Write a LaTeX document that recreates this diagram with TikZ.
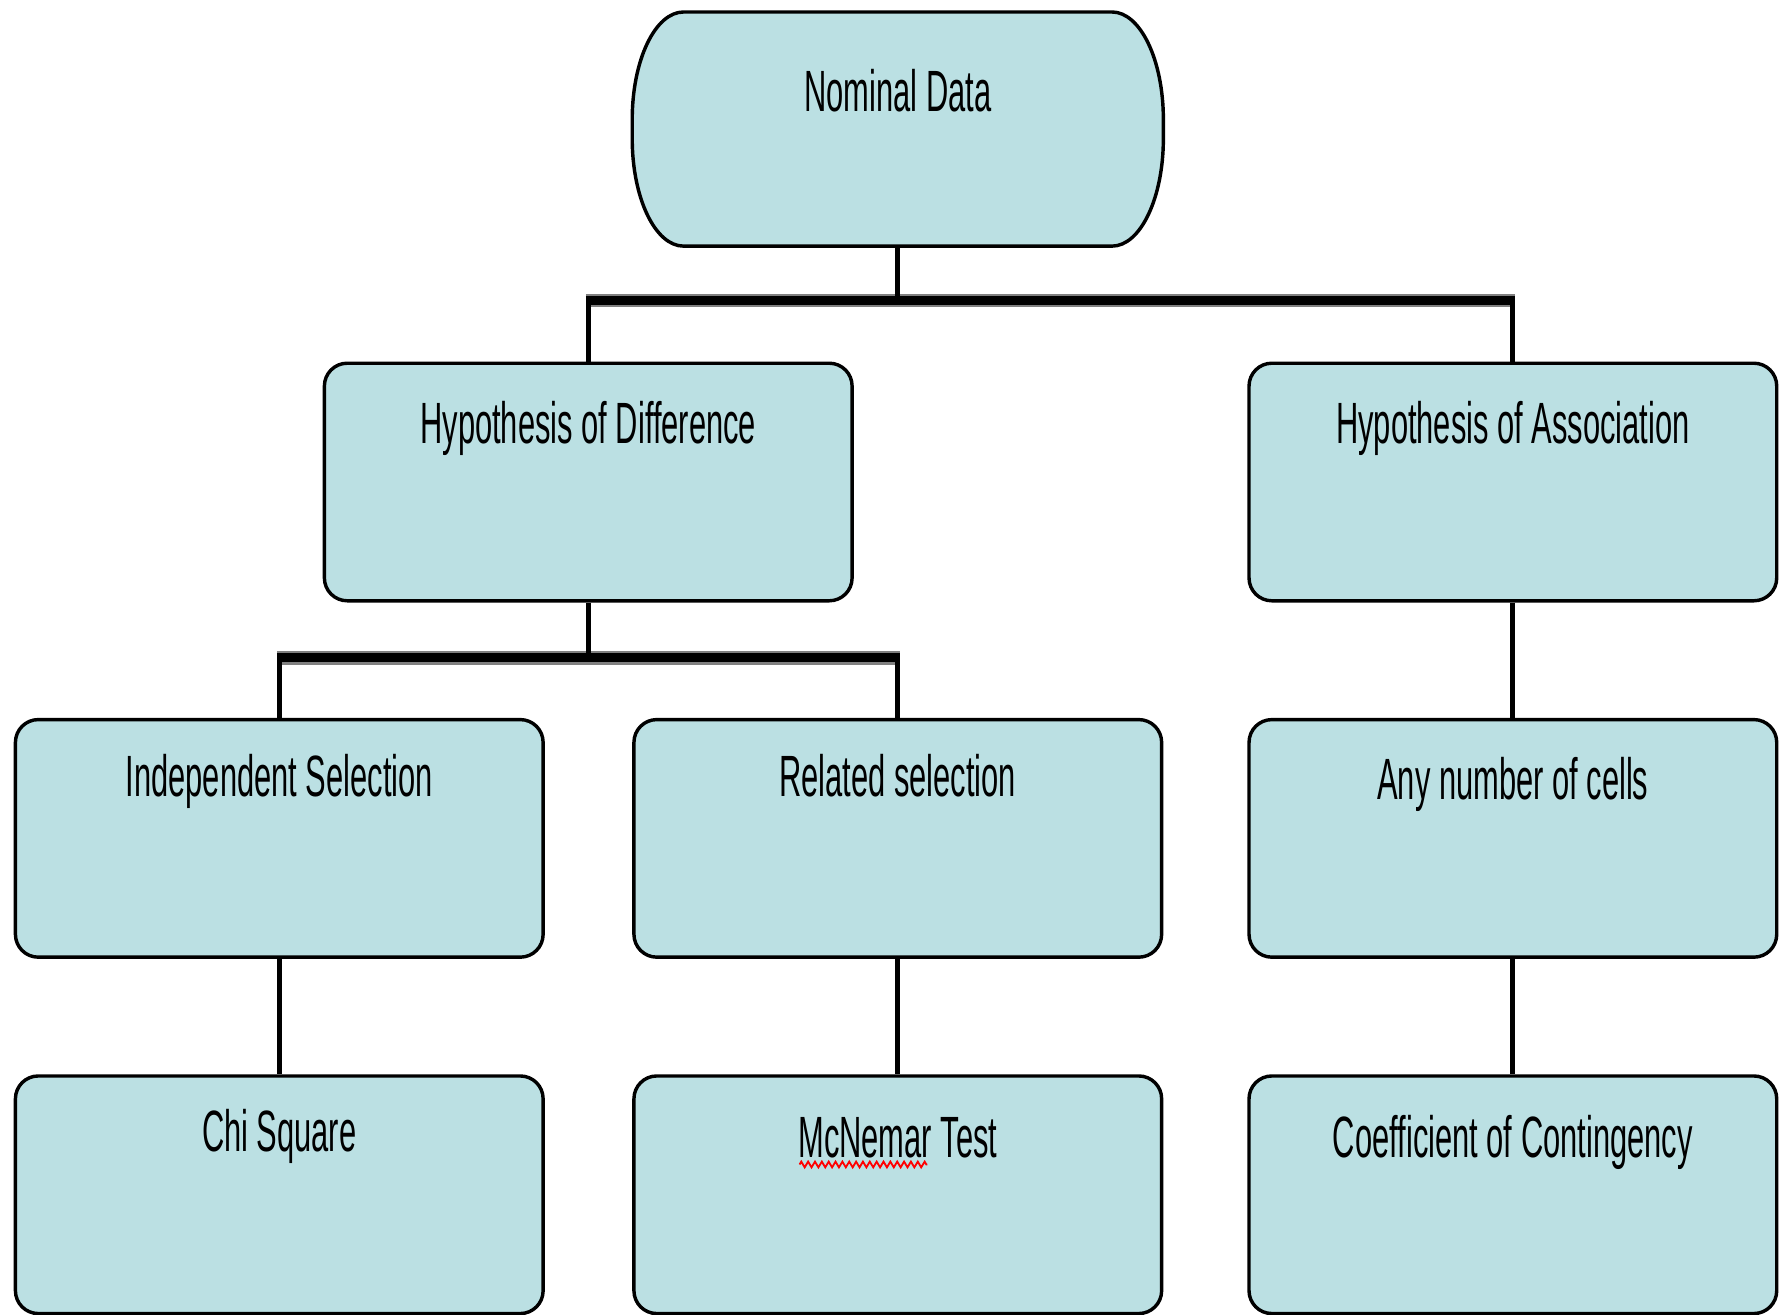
\documentclass[tikz,border=0pt]{standalone}
\usepackage{fontspec}
\setmainfont[FakeStretch=0.53]{Liberation Sans}
\usetikzlibrary{backgrounds,decorations.pathmorphing}
\definecolor{boxfill}{RGB}{187,224,227}
\begin{document}
\begin{tikzpicture}[x=1pt,y=1pt,
  box/.style={draw=black, line width=3pt, fill=boxfill, rounded corners=20pt,
    inner sep=0pt, minimum width=462pt, align=center,
    font=\fontsize{51}{60}\selectfont},
  % distance from the top edge to the baseline, and from the baseline to the bottom edge
  textpos/.style 2 args={text height=#1pt, text depth=#2pt},
  conn/.style={draw=black, line width=4.5pt},
  bus/.style={draw=gray, double=black, double distance=8pt, line width=2pt},
  spell/.style={draw=red, line width=1.6pt, decorate,
    decoration={zigzag, segment length=6pt, amplitude=2.5pt}}]
\useasboundingbox (0,0) rectangle (1568,1151);

% root node: the outline is drawn separately with elliptical ends
\node[box, draw=none, fill=none, textpos={86}{116}] (nom) at (786,1038) {Nominal Data};
\begin{scope}[on background layer]
\path[draw=black, line width=3pt, fill=boxfill]
  ([xshift=45pt]nom.north west) -- ([xshift=-45pt]nom.north east)
  arc[start angle=90, end angle=0, x radius=45pt, y radius=94pt]
  -- ([yshift=94pt]nom.south east)
  arc[start angle=0, end angle=-90, x radius=45pt, y radius=94pt]
  -- ([xshift=45pt]nom.south west)
  arc[start angle=-90, end angle=-180, x radius=45pt, y radius=94pt]
  -- ([yshift=-94pt]nom.north west)
  arc[start angle=180, end angle=90, x radius=45pt, y radius=94pt]
  -- cycle;
\end{scope}

% second level
\node[box, textpos={70}{138}] (diff)  at (515,729)    {Hypothesis of Difference};
\node[box, textpos={70}{138}] (assoc) at (1324.5,729) {Hypothesis of Association};

% third level
\node[box, textpos={67}{141}] (indep) at (244.5,417)  {Independent Selection};
\node[box, textpos={67}{141}] (rel)   at (786,417)    {Related selection};
\node[box, textpos={70}{138}] (any)   at (1324.5,417) {Any number of cells};

% tests
\node[box, textpos={66}{142}] (chi)  at (244.5,105)  {Chi Square};
\node[box, textpos={71}{137}] (mcn)  at (786,105)    {McNemar Test};
\node[box, textpos={71}{137}] (coef) at (1324.5,105) {Coefficient of Contingency};

% junction levels of the two buses
\coordinate (busA) at (0,888);
\coordinate (busB) at (0,575);

% root to the two hypotheses
\draw[bus] ([xshift=-2pt]diff.north |- busA) -- ([xshift=2pt]assoc.north |- busA);
\draw[conn] (nom.south) -- (nom.south |- busA);
\draw[conn] (diff.north |- busA) -- (diff.north);
\draw[conn] (assoc.north |- busA) -- (assoc.north);

% hypothesis of difference to its two selections
\draw[bus] ([xshift=-2pt]indep.north |- busB) -- ([xshift=2pt]rel.north |- busB);
\draw[conn] (diff.south) -- (diff.south |- busB);
\draw[conn] (indep.north |- busB) -- (indep.north);
\draw[conn] (rel.north |- busB) -- (rel.north);

% direct links
\draw[conn] (assoc.south) -- (any.north);
\draw[conn] (indep.south) -- (chi.north);
\draw[conn] (rel.south) -- (mcn.north);
\draw[conn] (any.south) -- (coef.north);

% wavy underline below "McNemar"
\draw[spell] ([xshift=-86pt,yshift=-79pt]mcn.north) -- ([xshift=26pt,yshift=-79pt]mcn.north);
\end{tikzpicture}
\end{document}
